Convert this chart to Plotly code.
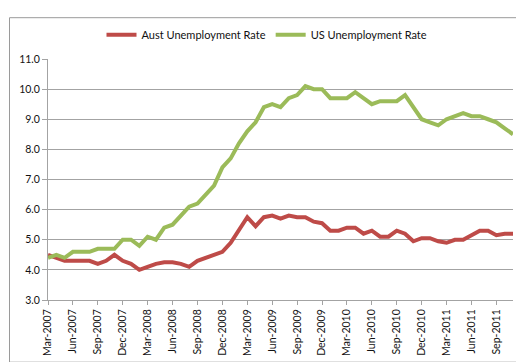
import pandas as pd
import plotly.graph_objects as go

months = list(pd.date_range("2007-03-01", periods=57, freq="MS").strftime("%b-%Y"))

aust_rate = [4.5, 4.4, 4.3, 4.3, 4.3, 4.3, 4.2, 4.3, 4.5, 4.3,
             4.2, 4.0, 4.1, 4.2, 4.25, 4.25, 4.2, 4.1, 4.3, 4.4,
             4.5, 4.6, 4.9, 5.3, 5.75, 5.45, 5.75, 5.8, 5.7, 5.8,
             5.75, 5.75, 5.6, 5.55, 5.3, 5.3, 5.4, 5.4, 5.2, 5.3,
             5.1, 5.1, 5.3, 5.2, 4.95, 5.05, 5.05, 4.95, 4.9, 5.0,
             5.0, 5.15, 5.3, 5.3, 5.15, 5.2, 5.2]

us_rate = [4.4, 4.5, 4.4, 4.6, 4.6, 4.6, 4.7, 4.7, 4.7, 5.0,
           5.0, 4.8, 5.1, 5.0, 5.4, 5.5, 5.8, 6.1, 6.2, 6.5,
           6.8, 7.4, 7.7, 8.2, 8.6, 8.9, 9.4, 9.5, 9.4, 9.7,
           9.8, 10.1, 10.0, 10.0, 9.7, 9.7, 9.7, 9.9, 9.7, 9.5,
           9.6, 9.6, 9.6, 9.8, 9.4, 9.0, 8.9, 8.8, 9.0, 9.1,
           9.2, 9.1, 9.1, 9.0, 8.9, 8.7, 8.5]

tick_labels = months[::3]
y_ticks = [3, 4, 5, 6, 7, 8, 9, 10, 11]

W, H = 524, 362
L, R, T, B = 40, 19, 44, 70
PW, PH = W - L - R, H - T - B


def px(x):
    return (x - L) / PW


def py(y):
    return (H - B - y) / PH


FONT = "Lato"
GRID = "#a3a3a3"

fig = go.Figure()
fig.add_trace(go.Scatter(x=months, y=aust_rate, mode="lines",
                         name="Aust Unemployment Rate",
                         line=dict(color="#BE4B48", width=4)))
fig.add_trace(go.Scatter(x=months, y=us_rate, mode="lines",
                         name="US Unemployment Rate",
                         line=dict(color="#9BBB59", width=4)))

fig.update_layout(
    width=W, height=H,
    margin=dict(l=L, r=R, t=T, b=B, pad=0),
    paper_bgcolor="white", plot_bgcolor="white",
    font=dict(family=FONT, size=10, color="#111111"),
    showlegend=True,
    legend=dict(orientation="h", x=px(259), xanchor="center",
                y=py(19), yanchor="middle",
                font=dict(family=FONT, size=11, color="#111111"),
                itemwidth=30, bgcolor="rgba(0,0,0,0)",
                tracegroupgap=0),
    xaxis=dict(type="category", range=[0, len(months) - 1],
               tickmode="array", tickvals=tick_labels, ticktext=tick_labels,
               tickangle=-90, ticks="outside", ticklen=4, tickcolor=GRID,
               showline=True, linecolor=GRID, linewidth=1,
               showgrid=False, zeroline=False,
               tickfont=dict(family=FONT, size=10.5, color="#111111")),
    yaxis=dict(range=[3, 11], tickvals=y_ticks, tickformat=".1f",
               ticks="outside", ticklen=5, tickcolor=GRID,
               showline=True, linecolor=GRID, linewidth=1,
               showgrid=True, gridcolor=GRID, gridwidth=1,
               zeroline=False,
               tickfont=dict(family=FONT, size=10.5, color="#111111")),
    shapes=[
        # shadow
        dict(type="line", xref="paper", yref="paper",
             x0=px(519), x1=px(519), y0=py(5), y1=py(359),
             line=dict(color="#8a8a8a", width=3)),
        dict(type="line", xref="paper", yref="paper",
             x0=px(5), x1=px(520), y0=py(358.5), y1=py(358.5),
             line=dict(color="#8a8a8a", width=3)),
        # frame
        dict(type="rect", xref="paper", yref="paper",
             x0=px(1.5), x1=px(517), y0=py(1.5), y1=py(356),
             line=dict(color="#9a9a9a", width=1)),
    ],
)

fig.write_html("out.html")
